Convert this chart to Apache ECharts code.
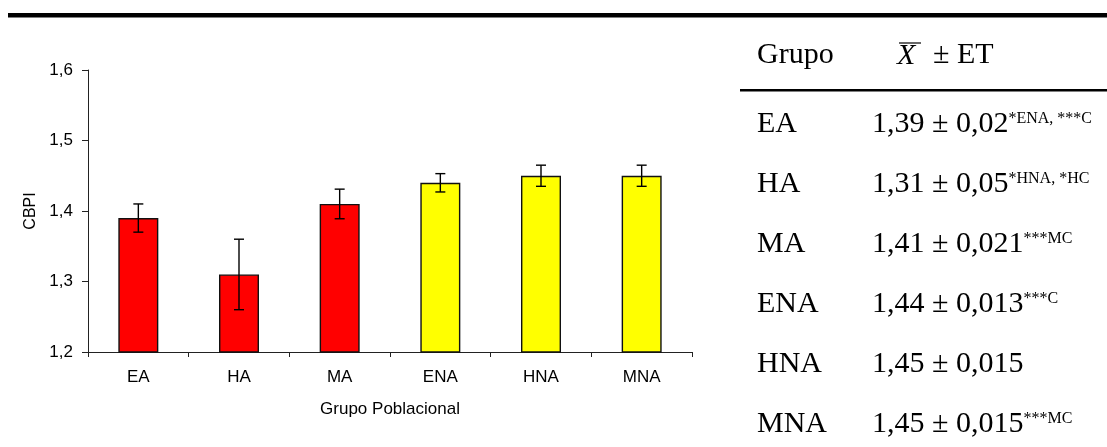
<!DOCTYPE html>
<html>
<head>
<meta charset="utf-8">
<script src="https://cdn.jsdelivr.net/npm/echarts@6/dist/echarts.min.js"></script>
<style>
  html, body { margin: 0; background: #fff; }
  #chart { width: 1107px; height: 447px; }
</style>
</head>
<body>
<div id="chart"></div>
<script>
const groups = ['EA', 'HA', 'MA', 'ENA', 'HNA', 'MNA']
const means = [1.39, 1.31, 1.41, 1.44, 1.45, 1.45]
const errors = [0.02, 0.05, 0.021, 0.013, 0.015, 0.015]
const notes = ['*ENA, ***C', '*HNA, *HC', '***MC', '***C', '', '***MC']
const barColors = ['#FF0000', '#FF0000', '#FF0000', '#FFFF00', '#FFFF00', '#FFFF00']
const yMin = 1.2, yMax = 1.6, yStep = 0.1

const sans = 'Liberation Sans'
const serif = 'Liberation Serif'
const comma = v => String(v).replace('.', ',')

const chart = echarts.init(document.getElementById('chart'))

// table on the right, drawn as graphic text
const rowTop = 124, rowStep = 60
const tableRows = groups.flatMap((g, i) => {
  const y = rowTop + i * rowStep
  return [
    { type: 'text', x: 757, y, style: { text: g, font: `30px "${serif}"`, fill: '#000', verticalAlign: 'middle' } },
    {
      type: 'text', x: 872, y,
      style: {
        text: `{m|${comma(means[i])} ± ${comma(errors[i])}}` + (notes[i] ? `{s|${notes[i]}}` : ''),
        verticalAlign: 'middle',
        rich: {
          m: { fontFamily: serif, fontSize: 30, lineHeight: 30, fill: '#000' },
          s: { fontFamily: serif, fontSize: 16, lineHeight: 16, fill: '#000', verticalAlign: 'top', padding: [2, 0, 0, 0] }
        }
      }
    }
  ]
})

chart.setOption({
  animation: false,
  grid: { left: 88, top: 70, width: 604, height: 282 },
  xAxis: {
    type: 'category',
    data: groups,
    name: 'Grupo Poblacional',
    nameLocation: 'middle',
    nameGap: 49,
    nameTextStyle: { fontFamily: sans, fontSize: 17, color: '#000' },
    axisLine: { lineStyle: { color: '#222', width: 1 } },
    axisTick: { show: true, length: 5, lineStyle: { color: '#222' } },
    axisLabel: { fontFamily: sans, fontSize: 17, color: '#000', margin: 17 }
  },
  yAxis: {
    type: 'value',
    min: yMin,
    max: yMax,
    interval: yStep,
    name: 'CBPI',
    nameLocation: 'middle',
    nameGap: 47,
    nameTextStyle: { fontFamily: sans, fontSize: 16, color: '#000' },
    axisLine: { show: true, lineStyle: { color: '#222', width: 1 } },
    axisTick: { show: true, length: 6, lineStyle: { color: '#222' } },
    splitLine: { show: false },
    axisLabel: { fontFamily: sans, fontSize: 17, color: '#000', margin: 15, formatter: v => comma(+v.toFixed(1)) }
  },
  series: [
    {
      type: 'bar',
      barWidth: 40,
      data: means.map((v, i) => ({ value: v, itemStyle: { color: barColors[i] } })),
      itemStyle: { borderColor: '#111', borderWidth: 1.4 }
    },
    {
      type: 'custom',
      z: 5,
      data: means.map((v, i) => [i, v, errors[i]]),
      renderItem: (params, api) => {
        const top = api.coord([api.value(0), api.value(1) + api.value(2)])
        const bot = api.coord([api.value(0), api.value(1) - api.value(2)])
        const hw = 5
        const st = { stroke: '#000', lineWidth: 1.4 }
        return {
          type: 'group',
          children: [
            { type: 'line', shape: { x1: top[0], y1: top[1], x2: bot[0], y2: bot[1] }, style: st },
            { type: 'line', shape: { x1: top[0] - hw, y1: top[1], x2: top[0] + hw, y2: top[1] }, style: st },
            { type: 'line', shape: { x1: bot[0] - hw, y1: bot[1], x2: bot[0] + hw, y2: bot[1] }, style: st }
          ]
        }
      }
    }
  ],
  graphic: [
    { type: 'rect', shape: { x: 8, y: 13, width: 1099, height: 4.5 }, style: { fill: '#000' } },
    { type: 'rect', shape: { x: 740, y: 89, width: 367, height: 2.5 }, style: { fill: '#000' } },
    { type: 'text', x: 757, y: 55, style: { text: 'Grupo', font: `30px "${serif}"`, fill: '#000', verticalAlign: 'middle' } },
    { type: 'text', x: 897, y: 56, style: { text: 'X', font: `italic 30px "${serif}"`, fill: '#000', verticalAlign: 'middle' } },
    { type: 'line', shape: { x1: 899, y1: 43, x2: 921, y2: 43 }, style: { stroke: '#000', lineWidth: 1.2 } },
    { type: 'text', x: 933, y: 55, style: { text: '± ET', font: `30px "${serif}"`, fill: '#000', verticalAlign: 'middle' } },
    ...tableRows
  ]
})
</script>
</body>
</html>
